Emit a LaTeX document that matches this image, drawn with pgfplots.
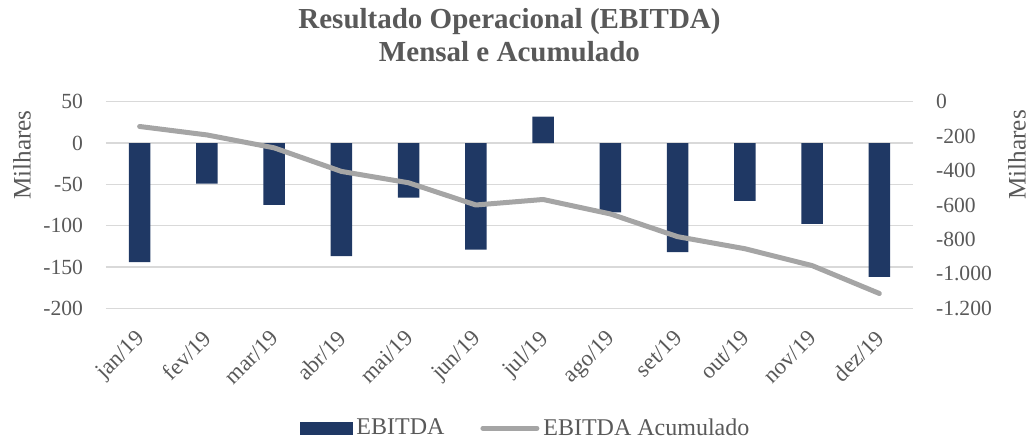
\documentclass[border=0pt]{standalone}
\usepackage{fontspec}
\setmainfont{Liberation Serif}
\usepackage{pgfplots}
\pgfplotsset{compat=1.18}
\definecolor{navy}{HTML}{1F3864}
\definecolor{lgray}{HTML}{A5A5A5}
\definecolor{txt}{HTML}{595959}
\definecolor{grd}{HTML}{D9D9D9}
\newcommand{\tfont}{\fontsize{10.8}{12}\selectfont}
\pgfplotsset{
  base/.style={
    scale only axis, width=403.5pt, height=103.3pt,
    xmin=0.5, xmax=12.5,
    axis line style={draw=none},
    major tick length=0pt,
    tick label style={font=\tfont, text=txt},
    /pgf/number format/assume math mode=true,
    /pgf/number format/1000 sep={.},
  },
}
\begin{document}
\begin{tikzpicture}
\useasboundingbox (-53pt,-66.85pt) rectangle (461.5pt,154.15pt);
\begin{axis}[base,
  ymin=-200, ymax=50, ytick={-200,-150,...,50},
  ymajorgrids, grid style={grd, line width=0.7pt},
  xtick={1,...,12},
  xticklabels={jan/19,fev/19,mar/19,abr/19,mai/19,jun/19,jul/19,ago/19,set/19,out/19,nov/19,dez/19},
  xticklabel style={xshift=-2.6pt, yshift=-8.6pt, rotate=45, anchor=north east, inner sep=1pt,
    font=\fontsize{11.4}{13}\selectfont},
  yticklabel style={xshift=-8pt},
  every axis y label/.style={at={(axis description cs:-0.104,0.742)}, rotate=90, anchor=center},
  ylabel={Milhares}, ylabel style={font=\fontsize{12.6}{14}\selectfont, text=txt},
  title={Resultado Operacional (EBITDA)\\Mensal e Acumulado},
  title style={align=center, font=\bfseries\fontsize{14.5}{16.5}\selectfont, text=txt,
    at={(axis description cs:0.5,1)}, anchor=south, inner sep=0pt, yshift=13.8pt},
]
\addplot[ybar, bar width=10.65pt, fill=navy, draw=none] coordinates {
  (1,-144) (2,-49) (3,-75) (4,-137) (5,-66) (6,-129)
  (7,32) (8,-84) (9,-132) (10,-70) (11,-98) (12,-162)
};
\end{axis}
\begin{axis}[base,
  axis y line*=right, axis x line=none,
  ymin=-1200, ymax=0, ytick={-1200,-1000,...,0},
  xtick=\empty,
  yticklabel style={xshift=8pt},
  every axis y label/.style={at={(axis description cs:1.129,0.742)}, rotate=90, anchor=center},
  ylabel={Milhares}, ylabel style={font=\fontsize{12.6}{14}\selectfont, text=txt},
  legend columns=2,
  legend style={at={(axis description cs:0.5,0)}, anchor=center, yshift=-60pt, xshift=8.5pt,
    draw=none, font=\fontsize{12}{14}\selectfont, text=txt,
    /tikz/every even column/.append style={column sep=16pt}},
]
\addlegendimage{legend image code/.code={\fill[navy] (0pt,-3pt) rectangle (26pt,3pt);}}
\addlegendentry{EBITDA}
\addplot[lgray, line width=2.5pt, line cap=round, line join=round,
  legend image code/.code={\draw[lgray, line width=2.5pt, line cap=round] (0pt,0pt) -- (27pt,0pt);}]
  coordinates {
  (1,-144) (2,-193) (3,-268) (4,-405) (5,-471) (6,-600)
  (7,-568) (8,-652) (9,-784) (10,-854) (11,-952) (12,-1114)
};
\addlegendentry{EBITDA Acumulado}
\end{axis}
\end{tikzpicture}
\end{document}
